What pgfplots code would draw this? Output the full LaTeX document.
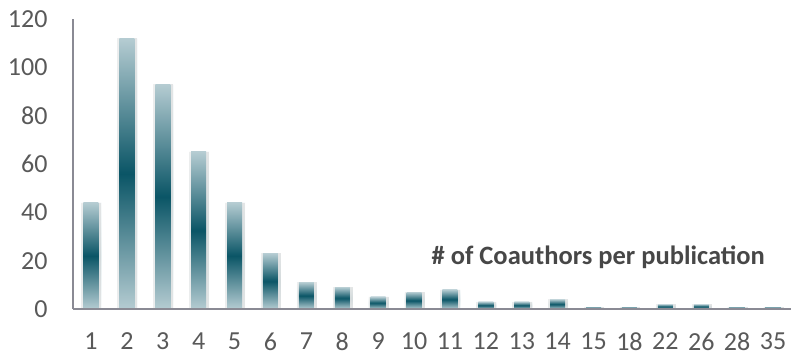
\documentclass[border=0pt]{standalone}
\usepackage{pgfplots}
\pgfplotsset{compat=1.18}
\usepackage{fontspec}
\setmainfont{Carlito}
\usetikzlibrary{calc}
\definecolor{barlight}{HTML}{B5CCD2}
\definecolor{bardark}{HTML}{0A5566}
\definecolor{axgray}{HTML}{8A8A94}
\definecolor{txtgray}{HTML}{595959}
\pgfplotsset{gbar/.style={ybar, bar width=15pt, bar shift=0pt, draw=none, shading=axis,
  top color=barlight, bottom color=barlight, middle color=bardark,
  preaction={fill=black, fill opacity=0.09, transform canvas={xshift=3pt}},
  preaction={fill=black, fill opacity=0.06, transform canvas={xshift=-2pt}}}}
\begin{document}
\begin{tikzpicture}
\begin{axis}[
  scale only axis,
  width=718pt, height=290pt,
  xmin=0.5, xmax=20.5,
  ymin=0, ymax=120,
  ytick={0,20,...,120},
  xtick={1,...,20},
  xticklabels={1,2,3,4,5,6,7,8,9,10,11,12,13,14,15,18,22,26,28,35},
  axis x line*=bottom, axis y line*=left,
  axis line style={-, draw=axgray, line width=1.5pt},
  tick style={draw=none},
  major tick length=0pt,
  /pgf/number format/assume math mode=true,
  tick label style={font=\fontsize{26}{28}\selectfont, text=txtgray},
  xticklabel style={yshift=-20pt},
  yticklabel style={xshift=-22pt},
  clip=false,
  axis on top,
]
\addplot[gbar] coordinates {(1,44)};
\addplot[gbar] coordinates {(2,112)};
\addplot[gbar] coordinates {(3,93)};
\addplot[gbar] coordinates {(4,65)};
\addplot[gbar] coordinates {(5,44)};
\addplot[gbar] coordinates {(6,23)};
\addplot[gbar] coordinates {(7,11)};
\addplot[gbar] coordinates {(8,9)};
\addplot[gbar] coordinates {(9,5)};
\addplot[gbar] coordinates {(10,7)};
\addplot[gbar] coordinates {(11,8)};
\addplot[gbar] coordinates {(12,3)};
\addplot[gbar] coordinates {(13,3)};
\addplot[gbar] coordinates {(14,4)};
\addplot[gbar] coordinates {(15,1)};
\addplot[gbar] coordinates {(16,1)};
\addplot[gbar] coordinates {(17,2)};
\addplot[gbar] coordinates {(18,2)};
\addplot[gbar] coordinates {(19,1)};
\addplot[gbar] coordinates {(20,1)};
\node[font=\bfseries\fontsize{26.5}{28}\selectfont, text=txtgray!80!black] at (axis cs:15.13,21.5) {\# of Coauthors per publication};
\coordinate (O) at (rel axis cs:0,0);
\coordinate (T) at (rel axis cs:1,1);
\end{axis}
\pgfresetboundingbox
\path[use as bounding box] ($(O)+(-73pt,-47pt)$) rectangle ($(T)+(0pt,19pt)$);
\end{tikzpicture}
\end{document}
